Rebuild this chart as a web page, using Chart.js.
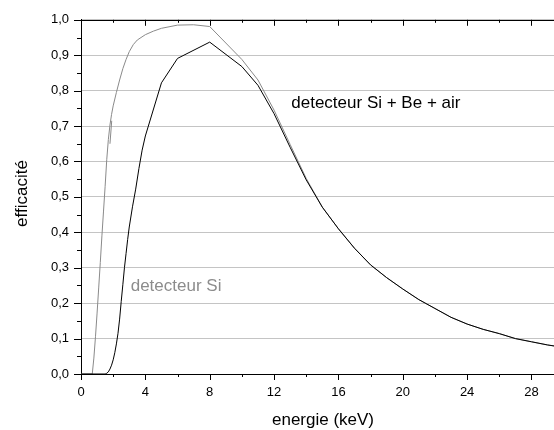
<!DOCTYPE html>
<html>
<head>
<meta charset="utf-8">
<script src="https://cdn.jsdelivr.net/npm/chart.js@4.4.1/dist/chart.umd.min.js"></script>
<style>
  html, body { margin: 0; padding: 0; background: #ffffff; }
  #wrap { width: 554px; height: 430px; }
</style>
</head>
<body>
<div id="wrap"><canvas id="effChart" width="554" height="430"></canvas></div>
<script>
// ------------------- Data -------------------

// detecteur Si + Be + air (black curve)
const energySiBe = [0, 1.5, 1.6, 1.7, 1.8, 1.9, 2.0, 2.1, 2.2, 2.3, 2.4, 2.5, 2.6, 2.7, 2.8, 2.9, 3.0, 3.2, 3.4, 3.6, 3.8,
  4, 5, 6, 8, 10, 11, 12, 13, 14, 15, 16, 17, 18, 19, 20, 21, 22, 23, 24, 25, 26, 27, 28, 29, 30];
const effSiBe = [0, 0, 0.002, 0.006, 0.014, 0.025, 0.04, 0.06, 0.085, 0.115, 0.155, 0.205, 0.252, 0.3, 0.34, 0.38, 0.415, 0.472, 0.522, 0.58, 0.632,
  0.672, 0.822, 0.891, 0.937, 0.868, 0.815, 0.735, 0.64, 0.548, 0.471, 0.41, 0.355, 0.308, 0.272, 0.24, 0.21, 0.185, 0.16, 0.141, 0.126, 0.114, 0.1, 0.091, 0.082, 0.075];

// detecteur Si (gray curve)
const energySi = [0, 0.7, 0.8, 0.9, 1.0, 1.1, 1.2, 1.3, 1.4, 1.5, 1.6, 1.7, 1.8, 1.9, 2.0, 2.2, 2.4, 2.6, 2.8, 3.0, 3.25, 3.5,
  4, 4.5, 5, 6, 7, 8, 10, 11, 12, 13, 14, 15, 16, 17, 18, 19, 20, 21, 22, 23, 24, 25, 26, 27, 28, 29, 30];
const effSi = [0, 0, 0.045, 0.105, 0.172, 0.243, 0.315, 0.39, 0.46, 0.53, 0.605, 0.662, 0.703, 0.733, 0.757, 0.795, 0.83, 0.862, 0.888, 0.91, 0.93, 0.943,
  0.958, 0.968, 0.976, 0.985, 0.986, 0.981, 0.888, 0.83, 0.745, 0.648, 0.552, 0.471, 0.41, 0.355, 0.308, 0.272, 0.24, 0.21, 0.185, 0.16, 0.141, 0.126, 0.114, 0.1, 0.091, 0.082, 0.075];

// small stray segment near the Si K edge
const edgeEnergy = [1.80, 1.91];
const edgeEff = [0.65, 0.715];

// axes
const xMin = 0, xMax = 29.4, xMajorStep = 4, xMinorStep = 2;
const yMin = 0, yMax = 1, yMajorStep = 0.1, yMinorStep = 0.05;

// ------------------- Helper Functions -------------------

const FONT = "'Liberation Sans', Arial, sans-serif";

function toPoints(xs, ys) {
  return xs.map((x, i) => ({ x: x, y: ys[i] }));
}

function crisp(v) {
  return Math.round(v) + 0.5;
}

// ticks on the frame (left/bottom outward, top inward), top frame line, labels
const framePlugin = {
  id: "framePlugin",
  afterDraw(chart) {
    const { ctx, chartArea: ca, scales } = chart;
    const xs = scales.x, ys = scales.y;
    ctx.save();
    ctx.strokeStyle = "#000000";
    ctx.lineWidth = 1;
    ctx.beginPath();
    ctx.moveTo(ca.left, crisp(ca.top));
    ctx.lineTo(ca.right, crisp(ca.top));

    for (let v = xMin; v <= xMax + 1e-9; v += xMinorStep) {
      const px = crisp(xs.getPixelForValue(v));
      const len = (Math.round(v / xMinorStep) % 2 === 0) ? 6 : 3;
      ctx.moveTo(px, ca.bottom);
      ctx.lineTo(px, ca.bottom + len);
      ctx.moveTo(px, ca.top);
      ctx.lineTo(px, ca.top + len);
    }
    for (let k = 0; k * yMinorStep <= yMax + 1e-9; k++) {
      const py = crisp(ys.getPixelForValue(yMin + k * yMinorStep));
      const len = (k % 2 === 0) ? 7 : 4;
      ctx.moveTo(ca.left - len, py);
      ctx.lineTo(ca.left, py);
    }
    ctx.stroke();

    // curve labels
    ctx.font = "17px " + FONT;
    ctx.textBaseline = "middle";
    ctx.textAlign = "left";
    ctx.fillStyle = "#000000";
    ctx.fillText("detecteur Si + Be + air", xs.getPixelForValue(13.07), ys.getPixelForValue(0.763));
    ctx.fillStyle = "#8c8c8c";
    ctx.fillText("detecteur Si", xs.getPixelForValue(3.09), ys.getPixelForValue(0.248));

    // axis titles
    ctx.fillStyle = "#000000";
    ctx.textBaseline = "alphabetic";
    ctx.textAlign = "center";
    ctx.fillText("energie (keV)", 323, 425);
    ctx.translate(26.5, 193.5);
    ctx.rotate(-Math.PI / 2);
    ctx.fillText("efficacité", 0, 0);
    ctx.restore();
  }
};

function renderEfficiencyChart() {
  new Chart(document.getElementById("effChart"), {
    type: "line",
    data: {
      datasets: [
        {
          label: "detecteur Si + Be + air",
          data: toPoints(energySiBe, effSiBe),
          borderColor: "#000000",
          borderWidth: 1,
          pointRadius: 0,
          tension: 0,
          fill: false,
        },
        {
          label: "detecteur Si",
          data: toPoints(energySi, effSi),
          borderColor: "#8a8a8a",
          borderWidth: 1,
          pointRadius: 0,
          tension: 0,
          fill: false,
        },
        {
          label: "edge",
          data: toPoints(edgeEnergy, edgeEff),
          borderColor: "#8a8a8a",
          borderWidth: 1,
          pointRadius: 0,
          fill: false,
        }
      ]
    },
    options: {
      responsive: false,
      animation: false,
      layout: { padding: { top: 18, right: 0, bottom: 0, left: 0 } },
      plugins: {
        legend: { display: false },
        tooltip: { enabled: false }
      },
      scales: {
        x: {
          type: "linear",
          min: xMin,
          max: xMax,
          afterFit: (s) => { s.height = 56; },
          ticks: {
            stepSize: xMajorStep,
            includeBounds: false,
            padding: 11,
            color: "#000000",
            font: { family: FONT, size: 13 },
            maxRotation: 0
          },
          grid: { display: true, drawOnChartArea: false, drawTicks: false },
          border: { display: true, color: "#000000", width: 1 }
        },
        y: {
          type: "linear",
          min: yMin,
          max: yMax,
          afterFit: (s) => { s.width = 81; },
          ticks: {
            stepSize: yMajorStep,
            padding: 12,
            color: "#000000",
            font: { family: FONT, size: 13 },
            callback: (v) => Number(v).toFixed(1).replace(".", ",")
          },
          grid: { color: "#c4c4c4", lineWidth: 1, drawTicks: false },
          border: { display: true, color: "#000000", width: 1 }
        }
      }
    },
    plugins: [framePlugin]
  });
}

document.addEventListener("DOMContentLoaded", renderEfficiencyChart);
</script>
</body>
</html>
